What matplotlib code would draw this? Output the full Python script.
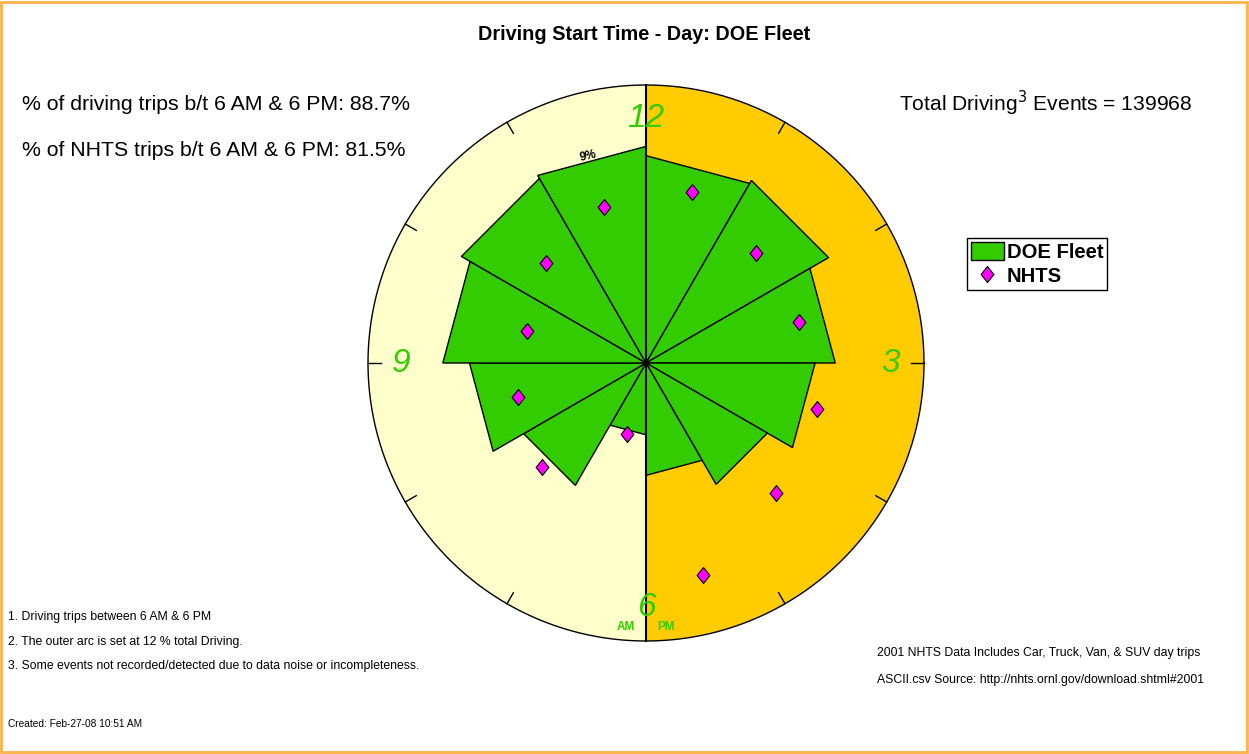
import numpy as np
import matplotlib
matplotlib.use("Agg")
import matplotlib.pyplot as plt
from matplotlib.patches import Wedge, Polygon, Rectangle, Patch
from matplotlib.lines import Line2D

plt.rcParams['font.family'] = ['Liberation Sans', 'DejaVu Sans']

# start hour of each one-hour slot, 6 AM .. 5 PM
start_hours = [6, 7, 8, 9, 10, 11, 12, 13, 14, 15, 16, 17]
# % of total driving starting in that hour
doe_fleet = [3.1, 6.1, 7.62, 8.77, 9.2, 9.35, 8.95, 9.1, 8.17, 7.3, 6.05, 4.85]
nhts = [3.16, 6.35, 5.72, 5.33, 6.13, 6.96, 7.64, 6.72, 6.85, 7.66, 7.91, 9.48]
outer_pct = 12
clock_labels = ['12', '3', '6', '9']
clock_hours = [0, 3, 6, 9]

GREEN = '#33CC00'
W, H = 1249, 754


def clock_xy(r, hour):
    # hour on a 12 h dial, clockwise from the top
    a = np.deg2rad((hour % 12) * 30.0)
    return r * np.sin(a), r * np.cos(a)


fig = plt.figure(figsize=(W / 100, H / 100), dpi=100)
fig.patch.set_facecolor('white')

# chart axes, centre at (646, 363) px, 12 % -> 278 px
scale = 278 / outer_pct
lim = 12.6
cx, cy = 646, 363
half = lim * scale
ax = fig.add_axes([(cx - half) / W, (H - cy - half) / H, 2 * half / W, 2 * half / H])
ax.set_xlim(-lim, lim)
ax.set_ylim(-lim, lim)
ax.set_aspect('equal')
ax.axis('off')

# AM / PM halves
ax.add_patch(Wedge((0, 0), outer_pct, 90, 270, facecolor='#FFFFCC', edgecolor='none'))
ax.add_patch(Wedge((0, 0), outer_pct, -90, 90, facecolor='#FFCC00', edgecolor='none'))
circ = np.linspace(0, 2 * np.pi, 400)
ax.plot(outer_pct * np.cos(circ), outer_pct * np.sin(circ), color='black', lw=1)

# hour ticks on the rim
for h in range(12):
    if h in (0, 6):
        continue
    x0, y0 = clock_xy(outer_pct, h)
    x1, y1 = clock_xy(outer_pct - 0.55, h)
    ax.plot([x0, x1], [y0, y1], color='black', lw=1)

# DOE fleet wedges (straight outer edge)
for h, v in zip(start_hours, doe_fleet):
    p1 = clock_xy(v, h)
    p2 = clock_xy(v, h + 1)
    ax.add_patch(Polygon([(0, 0), p1, p2], closed=True, facecolor=GREEN,
                         edgecolor='black', lw=1, zorder=3))

ax.plot([0, 0], [-outer_pct, outer_pct], color='black', lw=1.5, zorder=4)

# NHTS diamonds at the middle of each hour
diamond = [(0, 1), (0.8, 0), (0, -1), (-0.8, 0), (0, 1)]
for h, v in zip(start_hours, nhts):
    x, y = clock_xy(v, h + 0.5)
    ax.plot(x, y, marker=diamond, ms=11.5, color='#FF00FF', mec='black', mew=0.8,
            ls='none', zorder=5)

# clock numbers
for lab, h in zip(clock_labels, clock_hours):
    x, y = clock_xy(10.55, h)
    ax.text(x, y, lab, color=GREEN, fontsize=24, style='italic',
            ha='center', va='center', zorder=6)
ax.text(-0.85, -11.4, 'AM', color=GREEN, fontsize=8.5, fontweight='bold',
        ha='center', va='center', zorder=6)
ax.text(0.85, -11.4, 'PM', color=GREEN, fontsize=8.5, fontweight='bold',
        ha='center', va='center', zorder=6)
ax.text(-2.5, 8.93, '9%', fontsize=8.5, fontweight='bold', rotation=13,
        ha='center', va='center', zorder=6)


def ftext(x, y, s, **kw):
    fig.text(x / W, 1 - y / H, s, **kw)


ftext(644, 35, 'Driving Start Time - Day: DOE Fleet', fontsize=14.3,
      fontweight='bold', ha='center', va='center')
ftext(22, 105, '% of driving trips b/t 6 AM & 6 PM: 88.7%', fontsize=15.3, va='center')
ftext(22, 151, '% of NHTS trips b/t 6 AM & 6 PM: 81.5%', fontsize=15.3, va='center')
ftext(899, 103, r'Total Driving$^3$ Events = 139968', fontsize=15.1, va='center')

ftext(8, 617, '1. Driving trips between 6 AM & 6 PM', fontsize=8.8, va='center')
ftext(8, 642, '2. The outer arc is set at 12 % total Driving.', fontsize=8.8, va='center')
ftext(8, 666, '3. Some events not recorded/detected due to data noise or incompleteness.',
      fontsize=8.8, va='center')
ftext(8, 724, 'Created: Feb-27-08 10:51 AM', fontsize=7.3, va='center')
ftext(877, 653, '2001 NHTS Data Includes Car, Truck, Van, & SUV day trips',
      fontsize=8.8, va='center')
ftext(877, 680, 'ASCII.csv Source: http://nhts.ornl.gov/download.shtml#2001',
      fontsize=8.8, va='center')

handles = [Patch(facecolor=GREEN, edgecolor='black', lw=1),
           Line2D([], [], marker=diamond, ms=11.5, color='#FF00FF', mec='black',
                  mew=0.8, ls='none')]
leg = fig.legend(handles, ['DOE Fleet', 'NHTS'], loc='upper left',
                 bbox_to_anchor=(967 / W, 1 - 238 / H), fancybox=False,
                 edgecolor='black', framealpha=1, borderpad=0.2,
                 handlelength=1.6, handleheight=1.0, handletextpad=0.15,
                 labelspacing=0.2, borderaxespad=0,
                 prop={'weight': 'bold', 'size': 14.6})
leg.get_frame().set_linewidth(1)

# orange border around the picture
fig.add_artist(Rectangle((0.001, 0.002), 0.997, 0.996, transform=fig.transFigure,
                         fill=False, edgecolor='#FFB347', lw=2))

fig.savefig('out.png', dpi=100)
